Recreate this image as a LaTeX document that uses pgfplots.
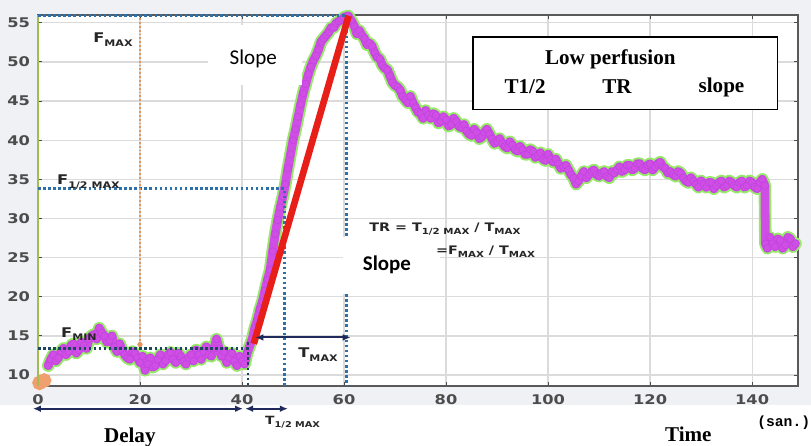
\documentclass[border=0pt]{standalone}
\usepackage{pgfplots}
\pgfplotsset{compat=1.18}
\usepackage{pgfplotstable}
\usepackage{fontspec}
\usetikzlibrary{arrows.meta}
\setmainfont{Liberation Serif}
\newfontfamily\widesans[FakeStretch=1.22]{DejaVu Sans}
\newfontfamily\calibri{Carlito}
\newfontfamily\serifb{Liberation Serif}
\newfontfamily\monob{Liberation Mono}

\definecolor{figbg}{RGB}{240,241,245}
\definecolor{glow}{RGB}{150,234,104}
\definecolor{trace}{RGB}{208,78,230}
\definecolor{traceedge}{RGB}{190,68,220}
\definecolor{startpt}{RGB}{240,160,110}
\definecolor{dotblue}{RGB}{46,112,170}
\definecolor{dotdark}{RGB}{26,70,96}
\definecolor{dotorange}{RGB}{226,150,96}
\definecolor{navy}{RGB}{30,42,92}
\definecolor{slopered}{RGB}{232,30,24}
\definecolor{leftline}{RGB}{160,190,80}

% subscript in small capitals, set slightly below the baseline
\newcommand{\Fsub}[3][6.8]{#2\raisebox{-0.45ex}{\fontsize{#1}{#1}\selectfont #3}}

\pgfplotsset{
  frame/.style={
    at={(0,0)}, anchor=south west,
    scale only axis, width=570pt, height=278.25pt,
    xmin=0, xmax=149, ymin=8.6, ymax=56,
    clip=false,
  },
}

% signal intensity over time (two samples per second)
\pgfplotstableread{
x y
2 11.2
2.5 12.0
3 12.6
3.5 11.8
4 12.2
4.5 13.0
5 13.4
5.5 12.6
6 13.0
6.5 13.8
7 14.0
7.5 12.8
8 13.2
8.5 14.2
9 13.8
9.5 13.4
10 14.6
10.5 15.0
11 15.2
11.5 14.6
12 16.0
12.5 15.4
13 15.0
13.5 14.2
14 14.4
14.5 15.0
15 13.6
15.5 13.0
16 14.0
16.5 13.2
17 12.6
17.5 12.2
18 12.0
18.5 13.0
19 12.8
19.5 12.2
20 11.6
20.5 12.4
21 10.6
21.5 11.4
22 12.2
22.5 11.0
23 11.2
23.5 12.0
24 12.6
24.5 11.4
25 11.8
25.5 12.6
26 12.9
26.5 12.0
27 11.6
27.5 12.8
28 12.4
28.5 11.8
29 11.4
29.5 12.2
30 12.6
30.5 11.8
31 13.2
31.5 12.6
32 12.0
32.5 13.0
33 13.6
33.5 12.6
34 12.4
34.5 13.4
35 14.6
35.5 13.4
36 12.4
36.5 13.0
37 11.6
37.5 12.2
38 12.8
38.5 11.8
39 11.2
39.5 12.4
40 11.8
40.5 11.4
41 12.8
42 14.6
42.5 16.0
43 17.0
43.5 18.4
44 19.4
44.5 20.8
45 22.2
45.5 23.4
46 25.8
46.5 28.0
47 29.8
47.5 31.4
48 32.8
48.5 34.4
49 36.4
49.5 38.2
50 40.0
50.5 41.4
51 43.0
51.5 44.6
52 46.0
52.5 47.2
53 48.4
53.5 49.4
54 50.2
54.5 50.8
55 51.6
55.5 52.6
56 53.0
56.5 53.4
57 53.8
57.5 54.4
58 54.4
58.5 55.0
59 55.2
59.5 55.4
60 55.7
60.8 55.9
61.5 55.2
62 54.6
62.5 53.6
63 54.0
63.5 53.4
64 53.0
64.5 52.2
65 52.4
65.5 52.0
66 51.2
66.5 50.6
67 50.4
67.5 49.6
68 49.2
68.5 49.0
69 48.2
69.5 47.4
70 47.0
70.5 46.8
71 46.4
71.5 45.6
72 45.2
72.5 44.8
73 45.6
73.5 44.8
74 44.2
74.5 43.6
75 43.4
75.5 42.8
76 43.8
76.5 43.2
77 42.8
77.5 43.4
78 43.2
78.5 42.2
79 42.4
79.5 43.0
80 42.6
80.5 41.8
81 42.0
81.5 42.8
82 42.4
82.5 41.8
83 41.6
83.5 42.0
84 41.2
84.5 40.8
85 40.6
85.5 41.4
86 41.0
86.5 40.2
87 40.4
87.5 41.0
88 41.4
88.5 40.8
89 40.2
89.5 39.6
90 39.8
90.5 40.2
91 39.6
91.5 39.2
92 39.0
92.5 39.8
93 39.4
93.5 38.8
94 38.6
94.5 39.2
95 38.8
95.5 38.2
96 38.2
96.5 38.8
97 38.6
97.5 37.8
98 38.0
98.5 38.4
99 37.6
99.5 37.4
100 38.2
100.5 37.6
101 37.2
101.5 37.6
102 37.0
102.5 36.4
103 36.6
103.5 36.8
104 36.2
104.5 35.6
105 35.2
105.5 34.4
106 34.8
106.5 35.4
107 36.0
107.5 35.2
108 35.6
108.5 36.0
109 36.2
109.5 35.6
110 35.4
110.5 35.8
111 36.0
111.5 35.4
112 35.2
112.5 36.0
113 35.8
113.5 36.2
114 36.6
114.5 36.0
115 36.2
115.5 36.8
116 36.8
116.5 36.2
117 36.4
117.5 37.0
118 37.0
118.5 36.4
119 36.2
119.5 36.8
120 37.0
120.5 36.2
121 36.6
121.5 37.0
122 37.2
122.5 36.6
123 36.4
123.5 35.8
124 36.0
124.5 35.6
125 35.4
125.5 36.0
126 35.8
126.5 35.2
127 34.8
127.5 34.6
128 35.2
128.5 34.8
129 34.4
129.5 34.0
130 34.8
130.5 34.4
131 34.0
131.5 34.6
132 34.6
132.5 33.8
133 34.2
133.5 34.6
134 34.8
134.5 34.0
135 34.2
135.5 34.8
136 34.6
136.5 34.2
137 34.0
137.5 34.6
138 34.8
138.5 34.0
139 34.2
139.5 34.8
140 34.6
140.5 34.0
141 33.8
141.5 34.6
142 35.0
142.5 34.2
142.6 26.8
143 26.2
143.5 27.6
144 26.8
144.5 26.4
145 27.4
145.5 27.2
146 26.2
146.5 26.6
147 27.6
147.5 27.4
148 26.4
148.5 26.8
}\signal

% first samples, before the bolus arrives
\pgfplotstableread{
x y
0.3 9.0
1.2 9.3
}\startpts

\begin{document}
\begin{tikzpicture}
\path[use as bounding box] (-28.5pt,-45pt) rectangle (579.75pt,289.5pt);
\fill[figbg] (-28.5pt,-14.25pt) rectangle (579.75pt,289.5pt);

% grid, ticks and the measured curve
\begin{axis}[
  frame,
  xtick={0,20,...,140}, ytick={10,15,...,55},
  grid=major,
  major grid style={draw=black!14, line width=0.9pt},
  axis background/.style={fill=white},
  axis line style={black!65, line width=0.9pt},
  tick style={black!70, line width=0.7pt},
  major tick length=3pt,
  /pgf/number format/assume math mode=true,
  ticklabel style={font=\widesans\bfseries\fontsize{10}{12}\selectfont, text=black!70},
  xticklabel style={yshift=-3pt},
  yticklabel style={xshift=-2.5pt},
]
% glow under the trace
\addplot[glow, line width=9.4pt, line join=round, line cap=round, mark=none] table {\signal};
\addplot[glow, line width=8pt, line join=round, line cap=round, mark=none] table {\startpts};
% trace itself
\addplot[trace, line width=6.6pt, line join=round, line cap=round, mark=*, mark size=2.8pt, mark options={fill=trace, draw=traceedge, line width=0.4pt}] table {\signal};
\addplot[startpt, line width=5.5pt, line cap=round, mark=*, mark size=2.6pt, mark options={fill=startpt, draw=startpt}] table {\startpts};
\end{axis}

% annotations, drawn over the curve
\begin{axis}[frame, hide axis]
% left axis line
\draw[leftline, line width=0.9pt] (0,8.6) -- (0,56);

% reference levels
\draw[dotblue, line width=1.9pt, dash pattern=on 1.9pt off 1.9pt] (0,55.95) -- (60.5,55.95);
\draw[dotblue, line width=1.9pt, dash pattern=on 1.9pt off 1.9pt] (60.5,55.95) -- (60.5,8.6);
\draw[dotblue, line width=1.9pt, dash pattern=on 1.9pt off 1.9pt] (0,33.8) -- (48.3,33.8) -- (48.3,8.6);
\draw[dotdark, line width=1.9pt, dash pattern=on 1.9pt off 1.9pt] (0,13.4) -- (41.4,13.4);
\draw[dotdark, line width=1.9pt, dash pattern=on 1.9pt off 1.9pt] (41.2,14.2) -- (41.2,8.6);
\draw[dotorange, line width=1.4pt, dash pattern=on 1.4pt off 1.5pt] (20,55.6) -- (20,13.9);
\fill[dotorange] (20,13.9) circle (2pt);

% label backgrounds
\fill[white] (33.3,47.1) rectangle (51.8,54.7);
\fill[white] (59.8,20.3) rectangle (78.8,27.7);

% slope from F_MIN to F_MAX
\addplot[slopered, line width=5pt, mark=none] coordinates {(42.3,14.0) (60.9,55.9)};

% time spans
\draw[navy, line width=1.5pt, {Latex[length=6pt,width=5pt]}-{Latex[length=6pt,width=5pt]}] (42.6,14.8) -- (61.3,14.8);
\draw[navy, line width=1.5pt, {Latex[length=6pt,width=5pt]}-{Latex[length=6pt,width=5pt]}] (-1,5.7) -- (40.2,5.7);
\draw[navy, line width=1.5pt, {Latex[length=6pt,width=5pt]}-{Latex[length=6pt,width=5pt]}] (40.6,5.7) -- (49,5.7);

% annotations
\begin{scope}[every node/.style={inner sep=0, text=black!85, font=\widesans\bfseries\fontsize{10}{12}\selectfont}]
\node[anchor=base west] at (10.8,52.45) {\Fsub{F}{MAX}};
\node[anchor=base west] at (3.7,34.3) {\Fsub{F}{1/2 MAX}};
\node[anchor=base west] at (4.5,14.8) {\Fsub{F}{MIN}};
\node[anchor=base west] at (51,12.2) {\Fsub{T}{MAX}};
\node[anchor=base west, font=\widesans\bfseries\fontsize{8.5}{10}\selectfont] at (44.5,3.65) {\Fsub[6]{T}{1/2 MAX}};
\node[anchor=base west, font=\widesans\bfseries\fontsize{8.8}{10}\selectfont] at (64.9,28.3) {TR = \Fsub[6.3]{T}{1/2 MAX} / \Fsub[6.3]{T}{MAX}};
\node[anchor=base west, font=\widesans\bfseries\fontsize{8.8}{10}\selectfont] at (78,25.4) {=\Fsub[6.3]{F}{MAX} / \Fsub[6.3]{T}{MAX}};
\end{scope}
\node[font=\calibri\fontsize{15.8}{18}\selectfont] at (42.2,50.4) {Slope};
\node[font=\calibri\bfseries\fontsize{15.7}{18}\selectfont] at (68.4,24.1) {Slope};

% summary box
\draw[black, line width=1.1pt, fill=white] (85.3,43.9) rectangle (145,53.2);
\begin{scope}[every node/.style={font=\serifb\bfseries\fontsize{15.8}{18}\selectfont}]
\node at (112.2,50.3) {Low perfusion};
\node at (95.5,46.8) {T1/2};
\node at (113.5,46.8) {TR};
\node at (134,46.8) {slope};
\node[anchor=base] at (18,1.4) {Delay};
\node[anchor=base] at (127.5,1.5) {Time};
\end{scope}
\node[anchor=base, font=\monob\bfseries\fontsize{11}{12}\selectfont] at (146.2,3.4) {(san.)};
\end{axis}
\end{tikzpicture}
\end{document}
